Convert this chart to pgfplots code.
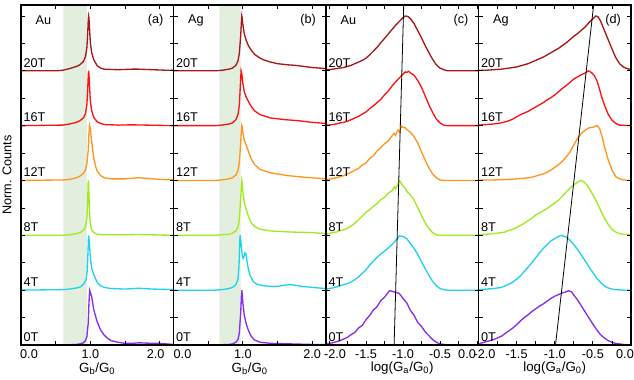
\documentclass[border=0pt]{standalone}
\usepackage{fontspec}
\setmainfont{Liberation Sans}
\usepackage{pgfplots}
\pgfplotsset{compat=1.18}

\definecolor{cA}{RGB}{165,25,25}   % 20T
\definecolor{cB}{RGB}{250,20,20}   % 16T
\definecolor{cC}{RGB}{255,150,30}  % 12T
\definecolor{cD}{RGB}{160,235,30}  % 8T
\definecolor{cE}{RGB}{30,210,240}  % 4T
\definecolor{cF}{RGB}{135,45,235}  % 0T
\definecolor{band}{RGB}{226,239,223}

% one curve: colour, vertical offset, table rows
\newcommand{\crv}[3]{\addplot[#1, line width=1pt] table[row sep=\\, y expr=\thisrowno{1}+#2] {#3};}

\newcommand{\Tlab}[1]{%
  \node[tl] at (axis cs:#1,0) {0T};
  \node[tl] at (axis cs:#1,1) {4T};
  \node[tl] at (axis cs:#1,2) {8T};
  \node[tl] at (axis cs:#1,3) {12T};
  \node[tl] at (axis cs:#1,4) {16T};
  \node[tl] at (axis cs:#1,5) {20T};}

\newcommand{\corner}[2]{%
  \node[anchor=west, font=\fontsize{9.5}{11}\selectfont] at (rel axis cs:0.065,0.955) {#1};
  \node[anchor=east, font=\fontsize{9.5}{11}\selectfont] at (rel axis cs:0.965,0.955) {#2};}

\tikzset{tl/.style={anchor=south west, inner xsep=1.7pt, inner ysep=2.5pt, font=\fontsize{9.5}{11}\selectfont}}

\pgfplotsset{
  panel/.style={
    scale only axis, width=114.375pt, height=255pt,
    anchor=south west,
    ymin=0, ymax=6.2,
    ytick={0,0.5,...,6}, yticklabels={},
    axis on top,
    axis line style={line width=0.8pt},
    tick style={black, line width=0.6pt},
    major tick length=3pt, minor tick length=3pt,
    tick label style={font=\fontsize{9.5}{10}\selectfont},
    label style={font=\fontsize{9.5}{11}\selectfont},
    every axis x label/.style={at={(axis description cs:0.5,0)}, anchor=center, yshift=-17.5pt},
    clip=true,
  },
}

\begin{document}
\begin{tikzpicture}

% ---------------- (a) Au, G_b ----------------
\begin{axis}[panel, at={(0pt,0pt)},
  xmin=0, xmax=2.2, xtick={0,0.5,...,2},
  xticklabels={\hspace*{12pt}0.0,,1.0,,2.0\hspace*{6pt}},
  xlabel={G\textsubscript{b}/G\textsubscript{0}}]
\addplot[fill=band, draw=none] coordinates {(0.61,0) (0.95,0) (0.95,6.2) (0.61,6.2)} \closedcycle;
\crv{cF}{0}{0 0\\0.6 0\\0.8 0.01\\0.85 0.02\\0.9 0.04\\0.93 0.08\\0.95 0.15\\0.97 0.4\\0.98 0.75\\0.99 1.0\\1.0 0.96\\1.01 0.92\\1.02 0.88\\1.05 0.64\\1.1 0.42\\1.15 0.27\\1.2 0.18\\1.25 0.12\\1.3 0.08\\1.4 0.05\\1.5 0.03\\1.6 0.03\\1.7 0.04\\1.8 0.035\\1.9 0.03\\2.0 0.03\\2.1 0.02\\2.2 0.01\\}
\crv{cE}{1}{0 0\\0.6 0.01\\0.7 0.02\\0.8 0.04\\0.86 0.06\\0.91 0.12\\0.94 0.2\\0.955 0.35\\0.965 0.65\\0.975 1.0\\0.985 0.9\\1.0 0.6\\1.02 0.4\\1.05 0.28\\1.1 0.14\\1.15 0.08\\1.2 0.05\\1.3 0.03\\1.5 0.02\\1.7 0.035\\1.9 0.02\\2.2 0.01\\}
\crv{cD}{2}{0 0\\0.6 0\\0.7 0.01\\0.8 0.03\\0.85 0.05\\0.9 0.09\\0.93 0.16\\0.95 0.3\\0.96 0.55\\0.97 1.0\\0.975 0.95\\0.98 0.75\\0.99 0.4\\1.0 0.2\\1.02 0.1\\1.05 0.05\\1.1 0.02\\1.2 0.01\\1.5 0.01\\1.7 0.015\\2.2 0.0\\}
\crv{cC}{3}{0 0\\0.6 0.01\\0.7 0.02\\0.8 0.05\\0.85 0.08\\0.9 0.13\\0.93 0.2\\0.95 0.3\\0.97 0.55\\0.98 0.85\\0.99 1.0\\1.0 0.95\\1.01 0.82\\1.03 0.6\\1.05 0.4\\1.08 0.24\\1.1 0.17\\1.15 0.09\\1.2 0.05\\1.3 0.03\\1.5 0.03\\1.7 0.05\\1.8 0.04\\2.0 0.02\\2.2 0.01\\}
\crv{cB}{4}{0 0\\0.6 0.01\\0.7 0.03\\0.8 0.06\\0.85 0.09\\0.9 0.14\\0.93 0.22\\0.95 0.38\\0.96 0.6\\0.97 0.9\\0.975 1.0\\0.98 0.95\\0.99 0.7\\1.0 0.45\\1.02 0.27\\1.05 0.15\\1.1 0.07\\1.15 0.04\\1.2 0.02\\1.4 0.01\\1.6 0.015\\1.8 0.01\\2.2 0.0\\}
\crv{cA}{5}{0 0\\0.5 0\\0.6 0.01\\0.7 0.04\\0.8 0.08\\0.85 0.11\\0.9 0.17\\0.93 0.26\\0.95 0.42\\0.96 0.62\\0.97 0.92\\0.975 1.0\\0.98 0.97\\0.99 0.75\\1.0 0.52\\1.02 0.33\\1.05 0.2\\1.1 0.09\\1.15 0.05\\1.2 0.03\\1.3 0.025\\1.4 0.02\\1.5 0.025\\1.6 0.03\\1.7 0.03\\1.8 0.025\\1.9 0.02\\2.0 0.015\\2.1 0.01\\2.2 0.01\\}
\Tlab{0}
\corner{Au}{(a)}
\end{axis}

% ---------------- (b) Ag, G_b ----------------
\begin{axis}[panel, at={(114.375pt,0pt)},
  xmin=0, xmax=2.2, xtick={0,0.5,...,2},
  xticklabels={\hspace*{13.5pt}0.0,,1.0,,2.0},
  xlabel={G\textsubscript{b}/G\textsubscript{0}}]
\addplot[fill=band, draw=none] coordinates {(0.66,0) (0.97,0) (0.97,6.2) (0.66,6.2)} \closedcycle;
\crv{cF}{0}{0 0\\0.6 0\\0.7 0.005\\0.8 0.01\\0.85 0.02\\0.9 0.05\\0.93 0.1\\0.95 0.22\\0.97 0.6\\0.98 0.9\\0.985 1.0\\0.99 0.95\\1.0 0.78\\1.02 0.55\\1.05 0.38\\1.08 0.27\\1.12 0.16\\1.17 0.09\\1.25 0.05\\1.4 0.03\\1.7 0.02\\2.0 0.01\\2.2 0.01\\}
\crv{cE}{1}{0 0\\0.6 0\\0.7 0.01\\0.8 0.03\\0.85 0.05\\0.9 0.1\\0.93 0.2\\0.945 0.45\\0.955 0.85\\0.96 1.0\\0.97 0.92\\0.98 0.78\\0.995 0.6\\1.01 0.58\\1.03 0.68\\1.045 0.66\\1.07 0.45\\1.1 0.28\\1.15 0.16\\1.2 0.11\\1.3 0.08\\1.4 0.07\\1.5 0.07\\1.6 0.09\\1.68 0.1\\1.75 0.09\\1.85 0.07\\2.0 0.05\\2.2 0.03\\}
\crv{cD}{2}{0 0\\0.6 0\\0.7 0.01\\0.8 0.02\\0.85 0.04\\0.9 0.08\\0.93 0.15\\0.95 0.3\\0.97 0.68\\0.98 0.92\\0.985 1.0\\0.99 0.96\\1.0 0.8\\1.02 0.6\\1.05 0.47\\1.08 0.35\\1.12 0.23\\1.17 0.16\\1.25 0.11\\1.4 0.08\\1.7 0.06\\2.0 0.05\\2.2 0.03\\}
\crv{cC}{3}{0 0\\0.6 0\\0.7 0.01\\0.8 0.03\\0.85 0.05\\0.9 0.1\\0.93 0.18\\0.95 0.33\\0.97 0.7\\0.98 0.92\\0.985 1.0\\0.99 0.98\\1.0 0.88\\1.02 0.74\\1.05 0.64\\1.08 0.53\\1.12 0.4\\1.17 0.29\\1.25 0.2\\1.4 0.14\\1.64 0.09\\1.88 0.06\\2.2 0.03\\}
\crv{cB}{4}{0 0\\0.6 0\\0.7 0.01\\0.8 0.03\\0.85 0.05\\0.9 0.11\\0.93 0.2\\0.95 0.38\\0.965 0.75\\0.975 1.0\\0.985 0.95\\1.0 0.78\\1.02 0.62\\1.05 0.52\\1.08 0.44\\1.12 0.35\\1.17 0.27\\1.25 0.2\\1.4 0.14\\1.6 0.11\\1.8 0.09\\2.0 0.06\\2.2 0.04\\}
\crv{cA}{5}{0 0\\0.6 0\\0.7 0.01\\0.75 0.02\\0.8 0.03\\0.85 0.05\\0.9 0.1\\0.93 0.18\\0.95 0.32\\0.97 0.65\\0.98 0.9\\0.985 1.0\\0.99 0.97\\1.0 0.85\\1.02 0.68\\1.05 0.55\\1.08 0.46\\1.12 0.38\\1.17 0.3\\1.25 0.23\\1.3 0.2\\1.4 0.16\\1.5 0.13\\1.64 0.11\\1.75 0.1\\1.88 0.08\\2.0 0.06\\2.1 0.05\\2.2 0.04\\}
\Tlab{0}
\corner{Ag}{(b)}
\end{axis}

% ---------------- (c) Au, log G_a ----------------
\begin{axis}[panel, at={(228.75pt,0pt)},
  xmin=-2.04, xmax=0.02, xtick={-2,-1.5,...,0},
  minor xtick={-1.75,-1.25,-0.75,-0.25},
  xticklabels={\hspace*{9pt}-2.0,-1.5,-1.0,-0.5,0.0\hspace*{15pt}},
  xlabel={log(G\textsubscript{a}/G\textsubscript{0})}]
\crv{cF}{0}{-2.04 0.02\\-2.0 0.03\\-1.95 0.04\\-1.9 0.06\\-1.85 0.08\\-1.8 0.11\\-1.75 0.14\\-1.7 0.19\\-1.65 0.23\\-1.6 0.31\\-1.55 0.36\\-1.5 0.46\\-1.45 0.54\\-1.4 0.64\\-1.35 0.70\\-1.3 0.81\\-1.25 0.87\\-1.2 0.96\\-1.18 0.99\\-1.15 0.98\\-1.1 0.96\\-1.05 0.94\\-1.0 0.85\\-0.95 0.77\\-0.9 0.63\\-0.85 0.54\\-0.8 0.41\\-0.75 0.34\\-0.7 0.24\\-0.65 0.17\\-0.6 0.10\\-0.55 0.05\\-0.5 0.02\\-0.45 0.01\\-0.4 0.0\\0.02 0.0\\}
\crv{cE}{1}{-2.04 0.02\\-2.0 0.03\\-1.95 0.04\\-1.9 0.06\\-1.85 0.08\\-1.8 0.10\\-1.75 0.12\\-1.7 0.15\\-1.65 0.19\\-1.6 0.24\\-1.55 0.31\\-1.5 0.37\\-1.45 0.46\\-1.4 0.53\\-1.35 0.60\\-1.3 0.66\\-1.25 0.71\\-1.2 0.77\\-1.15 0.83\\-1.1 0.90\\-1.05 0.99\\-1.0 0.98\\-0.95 0.94\\-0.9 0.85\\-0.85 0.76\\-0.8 0.65\\-0.75 0.52\\-0.7 0.39\\-0.65 0.27\\-0.6 0.16\\-0.55 0.08\\-0.5 0.03\\-0.45 0.01\\-0.4 0.0\\0.02 0.0\\}
\crv{cD}{2}{-2.04 0.02\\-2.0 0.03\\-1.95 0.05\\-1.9 0.06\\-1.85 0.09\\-1.8 0.10\\-1.75 0.13\\-1.7 0.17\\-1.65 0.22\\-1.6 0.29\\-1.55 0.35\\-1.5 0.42\\-1.45 0.47\\-1.4 0.53\\-1.35 0.58\\-1.3 0.65\\-1.25 0.69\\-1.2 0.77\\-1.15 0.81\\-1.12 0.88\\-1.1 0.85\\-1.07 0.93\\-1.05 1.0\\-1.02 0.94\\-1.0 0.90\\-0.97 0.86\\-0.95 0.80\\-0.9 0.74\\-0.85 0.64\\-0.8 0.50\\-0.75 0.36\\-0.7 0.23\\-0.65 0.12\\-0.6 0.05\\-0.55 0.01\\-0.5 0.0\\0.02 0.0\\}
\crv{cC}{3}{-2.04 0.01\\-2.0 0.02\\-1.95 0.04\\-1.9 0.05\\-1.85 0.07\\-1.8 0.09\\-1.75 0.12\\-1.7 0.15\\-1.65 0.19\\-1.6 0.22\\-1.55 0.28\\-1.5 0.32\\-1.45 0.40\\-1.4 0.45\\-1.35 0.54\\-1.3 0.60\\-1.25 0.67\\-1.2 0.72\\-1.15 0.81\\-1.12 0.86\\-1.1 0.82\\-1.07 0.92\\-1.05 0.89\\-1.02 0.99\\-1.0 0.97\\-0.97 0.96\\-0.95 0.93\\-0.9 0.88\\-0.85 0.80\\-0.8 0.68\\-0.75 0.52\\-0.7 0.37\\-0.65 0.23\\-0.6 0.12\\-0.55 0.05\\-0.5 0.01\\-0.45 0.0\\0.02 0.0\\}
\crv{cB}{4}{-2.04 0.01\\-2.0 0.01\\-1.95 0.02\\-1.9 0.03\\-1.85 0.05\\-1.8 0.06\\-1.75 0.08\\-1.7 0.11\\-1.65 0.14\\-1.6 0.17\\-1.55 0.21\\-1.5 0.25\\-1.45 0.31\\-1.4 0.36\\-1.35 0.42\\-1.3 0.48\\-1.25 0.56\\-1.2 0.63\\-1.15 0.72\\-1.1 0.80\\-1.05 0.87\\-1.0 0.94\\-0.97 0.98\\-0.95 0.97\\-0.92 0.99\\-0.9 0.96\\-0.85 0.92\\-0.8 0.82\\-0.75 0.70\\-0.7 0.54\\-0.65 0.38\\-0.6 0.24\\-0.55 0.12\\-0.5 0.05\\-0.45 0.01\\-0.4 0.0\\0.02 0.0\\}
\crv{cA}{5}{-2.04 0.02\\-2.0 0.02\\-1.9 0.04\\-1.8 0.06\\-1.75 0.08\\-1.7 0.10\\-1.65 0.13\\-1.6 0.16\\-1.55 0.19\\-1.5 0.23\\-1.45 0.29\\-1.4 0.36\\-1.35 0.43\\-1.3 0.51\\-1.25 0.59\\-1.2 0.67\\-1.15 0.75\\-1.1 0.83\\-1.05 0.90\\-1.0 0.97\\-0.97 1.0\\-0.93 0.99\\-0.9 0.95\\-0.85 0.86\\-0.8 0.73\\-0.75 0.60\\-0.7 0.46\\-0.65 0.33\\-0.6 0.21\\-0.55 0.11\\-0.5 0.05\\-0.45 0.02\\-0.4 0.0\\0.02 0.0\\}
\addplot[black, line width=0.6pt] coordinates {(-1.12,0) (-0.99,6.2)};
\Tlab{-2.04}
\corner{Au}{(c)}
\end{axis}

% ---------------- (d) Ag, log G_a ----------------
\begin{axis}[panel, at={(343.125pt,0pt)},
  xmin=-2.0, xmax=0.0, xtick={-2,-1.5,...,0},
  minor xtick={-1.75,-1.25,-0.75,-0.25},
  xticklabels={\hspace*{9pt}-2.0,-1.5,-1.0,-0.5,0.0\hspace*{9pt}},
  xlabel={log(G\textsubscript{a}/G\textsubscript{0})}]
\crv{cF}{0}{-2.0 0.02\\-1.95 0.04\\-1.9 0.06\\-1.85 0.08\\-1.8 0.10\\-1.75 0.13\\-1.7 0.16\\-1.65 0.21\\-1.6 0.26\\-1.55 0.31\\-1.5 0.37\\-1.45 0.44\\-1.4 0.50\\-1.35 0.55\\-1.3 0.61\\-1.25 0.66\\-1.2 0.71\\-1.15 0.75\\-1.1 0.80\\-1.05 0.85\\-1.0 0.89\\-0.95 0.92\\-0.9 0.95\\-0.85 0.97\\-0.82 0.99\\-0.78 0.97\\-0.75 0.91\\-0.7 0.82\\-0.65 0.71\\-0.6 0.60\\-0.55 0.49\\-0.5 0.38\\-0.45 0.28\\-0.4 0.19\\-0.35 0.13\\-0.3 0.08\\-0.25 0.05\\-0.2 0.03\\-0.15 0.02\\-0.1 0.01\\0.0 0.0\\}
\crv{cE}{1}{-2.0 0.01\\-1.9 0.02\\-1.8 0.03\\-1.75 0.04\\-1.7 0.05\\-1.65 0.08\\-1.6 0.11\\-1.55 0.15\\-1.5 0.20\\-1.45 0.26\\-1.4 0.34\\-1.35 0.42\\-1.3 0.50\\-1.25 0.59\\-1.2 0.68\\-1.15 0.76\\-1.1 0.83\\-1.05 0.90\\-1.0 0.94\\-0.95 0.98\\-0.91 1.0\\-0.87 0.98\\-0.83 0.95\\-0.8 0.91\\-0.75 0.83\\-0.7 0.74\\-0.65 0.64\\-0.6 0.53\\-0.55 0.42\\-0.5 0.32\\-0.45 0.22\\-0.4 0.14\\-0.35 0.08\\-0.3 0.04\\-0.25 0.02\\-0.2 0.01\\-0.1 0.0\\0.0 0.0\\}
\crv{cD}{2}{-2.0 0.01\\-1.9 0.02\\-1.8 0.03\\-1.7 0.05\\-1.65 0.06\\-1.6 0.09\\-1.55 0.11\\-1.5 0.14\\-1.45 0.18\\-1.4 0.22\\-1.35 0.27\\-1.3 0.31\\-1.25 0.37\\-1.2 0.41\\-1.15 0.45\\-1.1 0.49\\-1.05 0.54\\-1.0 0.59\\-0.95 0.64\\-0.9 0.71\\-0.85 0.79\\-0.8 0.86\\-0.75 0.92\\-0.7 0.97\\-0.66 1.0\\-0.62 0.98\\-0.58 0.92\\-0.55 0.86\\-0.5 0.74\\-0.45 0.61\\-0.4 0.46\\-0.35 0.32\\-0.3 0.20\\-0.25 0.11\\-0.2 0.06\\-0.15 0.03\\-0.1 0.02\\0.0 0.01\\}
\crv{cC}{3}{-2.0 0.01\\-1.8 0.01\\-1.6 0.02\\-1.5 0.03\\-1.4 0.04\\-1.3 0.06\\-1.25 0.08\\-1.2 0.10\\-1.15 0.12\\-1.1 0.15\\-1.05 0.19\\-1.0 0.24\\-0.95 0.29\\-0.9 0.35\\-0.85 0.43\\-0.8 0.52\\-0.75 0.65\\-0.7 0.77\\-0.65 0.86\\-0.6 0.92\\-0.55 0.96\\-0.5 0.97\\-0.47 0.99\\-0.44 1.0\\-0.41 0.94\\-0.38 0.80\\-0.35 0.63\\-0.3 0.38\\-0.25 0.19\\-0.2 0.07\\-0.15 0.03\\-0.1 0.01\\0.0 0.0\\}
\crv{cB}{4}{-2.0 0.01\\-1.9 0.02\\-1.8 0.03\\-1.7 0.05\\-1.65 0.07\\-1.6 0.09\\-1.55 0.12\\-1.5 0.16\\-1.45 0.20\\-1.4 0.23\\-1.35 0.26\\-1.3 0.30\\-1.25 0.34\\-1.2 0.38\\-1.15 0.42\\-1.1 0.47\\-1.05 0.51\\-1.0 0.56\\-0.95 0.62\\-0.9 0.68\\-0.85 0.73\\-0.8 0.79\\-0.75 0.85\\-0.7 0.89\\-0.65 0.93\\-0.6 0.96\\-0.56 1.0\\-0.52 0.97\\-0.48 0.91\\-0.45 0.83\\-0.42 0.70\\-0.39 0.55\\-0.35 0.38\\-0.3 0.21\\-0.25 0.10\\-0.2 0.04\\-0.15 0.01\\0.0 0.0\\}
\crv{cA}{5}{-2.0 0.01\\-1.9 0.01\\-1.8 0.02\\-1.7 0.03\\-1.6 0.05\\-1.5 0.07\\-1.45 0.09\\-1.4 0.11\\-1.35 0.13\\-1.3 0.16\\-1.25 0.19\\-1.2 0.22\\-1.15 0.25\\-1.1 0.29\\-1.05 0.33\\-1.0 0.37\\-0.95 0.41\\-0.9 0.46\\-0.85 0.51\\-0.8 0.57\\-0.75 0.63\\-0.7 0.68\\-0.65 0.74\\-0.6 0.80\\-0.55 0.88\\-0.5 0.95\\-0.46 1.0\\-0.43 0.98\\-0.4 0.91\\-0.35 0.74\\-0.3 0.57\\-0.25 0.40\\-0.2 0.24\\-0.15 0.13\\-0.1 0.07\\-0.05 0.04\\0.0 0.02\\}
\addplot[black, line width=0.6pt] coordinates {(-0.99,0) (-0.49,6.2)};
\Tlab{-2.0}
\corner{Ag}{(d)}
\end{axis}

\node[rotate=90, font=\fontsize{9.5}{11}\selectfont] at (-10.5pt,127.5pt) {Norm. Counts};

\pgfresetboundingbox
\path[use as bounding box] (-15.75pt,-25.5pt) rectangle (459.75pt,258.75pt);
\end{tikzpicture}
\end{document}
